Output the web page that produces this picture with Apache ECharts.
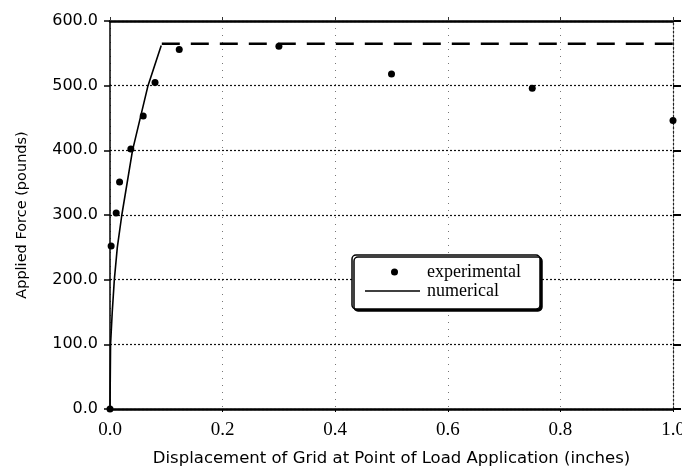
<!DOCTYPE html>
<html>
<head>
<meta charset="utf-8">
<script src="https://cdn.jsdelivr.net/npm/echarts@6/dist/echarts.min.js"></script>
<style>
  html, body { margin: 0; padding: 0; background: #fff; }
  #chart { width: 682px; height: 469px; }
</style>
</head>
<body>
<div id="chart"></div>
<script>
// experimental points
var expX = [0, 0.002, 0.011, 0.017, 0.037, 0.059, 0.080, 0.123, 0.30, 0.50, 0.75, 1.0]
var expY = [0, 252, 303, 351, 402, 453, 505, 556, 561, 518, 496, 446]
// numerical curve (solid part, elastic loading)
var numX = [0, 0.001, 0.004, 0.0077, 0.013, 0.021, 0.040, 0.0675, 0.091]
var numY = [0, 100, 150, 200, 250, 300, 400, 500, 562]
// numerical plateau (dashed)
var plateauX = [0.092, 1.0]
var plateauY = [565, 565]
// axis ticks
var xTicks = [0, 0.2, 0.4, 0.6, 0.8, 1.0]
var yTicks = [0, 100, 200, 300, 400, 500, 600]

function pairs (xs, ys) {
  return xs.map(function (x, i) { return [x, ys[i]] })
}

var chart = echarts.init(document.getElementById('chart'), null, { renderer: 'canvas' })

var sansFont = 'DejaVu Sans'
var serifFont = 'Liberation Serif'

var option = {
  backgroundColor: '#fff',
  animation: false,
  grid: {
    left: 110,
    right: 9,
    top: 21,
    bottom: 60,
    containLabel: false,
    outerBoundsMode: 'none'
  },
  legend: [
    {
      // experimental
      data: ['experimental'],
      left: 391,
      top: 263,
      padding: 0,
      icon: 'circle',
      itemWidth: 7,
      itemHeight: 7,
      selectedMode: false,
      textStyle: {
        fontFamily: serifFont,
        fontSize: 18,
        color: '#000',
        padding: [0, 0, 0, 24]
      }
    },
    {
      // numerical
      data: ['numerical'],
      left: 365,
      top: 282,
      padding: 0,
      icon: 'rect',
      itemWidth: 55,
      itemHeight: 1.6,
      selectedMode: false,
      textStyle: {
        fontFamily: serifFont,
        fontSize: 18,
        color: '#000',
        padding: [0, 0, 0, 2]
      }
    }
  ],
  graphic: [
    {
      type: 'rect',
      z: 3,
      shape: { x: 352, y: 255, width: 188, height: 54, r: 4 },
      style: {
        fill: '#fff',
        stroke: '#000',
        lineWidth: 1.5,
        shadowColor: '#000',
        shadowOffsetX: 2,
        shadowOffsetY: 2,
        shadowBlur: 0
      }
    }
  ],
  xAxis: [
    {
      type: 'value',
      position: 'bottom',
      min: 0,
      max: 1,
      interval: 0.2,
      name: 'Displacement of Grid at Point of Load Application (inches)',
      nameLocation: 'middle',
      nameGap: 41,
      nameTextStyle: {
        fontFamily: sansFont,
        fontSize: 16.5,
        color: '#000'
      },
      axisLine: { show: true, onZero: false, lineStyle: { color: '#000', width: 2.5 } },
      axisTick: { show: true, inside: false, length: 3, lineStyle: { color: '#000', width: 1 } },
      axisLabel: {
        margin: 12,
        fontFamily: serifFont,
        fontSize: 19,
        color: '#000',
        formatter: function (v) { return v.toFixed(1) }
      },
      splitLine: {
        show: true,
        lineStyle: { color: '#777', width: 1, type: [1, 6] }
      }
    },
    {
      type: 'value',
      position: 'top',
      min: 0,
      max: 1,
      interval: 0.2,
      axisLine: { show: true, onZero: false, lineStyle: { color: '#000', width: 2.5 } },
      axisTick: { show: true, inside: false, length: 4, lineStyle: { color: '#333', width: 1 } },
      axisLabel: { show: false },
      splitLine: { show: false }
    }
  ],
  yAxis: [
    {
      type: 'value',
      position: 'left',
      min: 0,
      max: 600,
      interval: 100,
      name: 'Applied Force (pounds)',
      nameLocation: 'middle',
      nameGap: 80,
      nameTextStyle: {
        fontFamily: sansFont,
        fontSize: 14.5,
        color: '#000'
      },
      axisLine: { show: true, onZero: false, lineStyle: { color: '#000', width: 1.5 } },
      axisTick: { show: true, inside: false, length: 6, lineStyle: { color: '#000', width: 1.5 } },
      axisLabel: {
        margin: 12,
        fontFamily: sansFont,
        fontSize: 16,
        color: '#000',
        formatter: function (v) { return v.toFixed(1) }
      },
      splitLine: {
        show: true,
        lineStyle: { color: '#111', width: 1.2, type: [2, 2] }
      }
    },
    {
      type: 'value',
      position: 'right',
      min: 0,
      max: 600,
      interval: 100,
      axisLine: { show: true, onZero: false, lineStyle: { color: '#222', width: 1.2, type: [2, 2] } },
      axisTick: { show: true, inside: false, length: 8, lineStyle: { color: '#000', width: 2 } },
      axisLabel: { show: false },
      splitLine: { show: false }
    }
  ],
  series: [
    {
      name: 'numerical',
      type: 'line',
      xAxisIndex: 0,
      yAxisIndex: 0,
      data: pairs(numX, numY),
      symbol: 'none',
      smooth: false,
      lineStyle: { color: '#000', width: 1.6 },
      itemStyle: { color: '#000' },
      z: 5
    },
    {
      name: 'numerical plateau',
      type: 'line',
      xAxisIndex: 0,
      yAxisIndex: 0,
      data: pairs(plateauX, plateauY),
      symbol: 'none',
      lineStyle: { color: '#000', width: 2.5, type: [18, 11] },
      z: 5
    },
    {
      name: 'experimental',
      type: 'scatter',
      xAxisIndex: 0,
      yAxisIndex: 0,
      data: pairs(expX, expY),
      symbol: 'circle',
      symbolSize: 7,
      itemStyle: { color: '#000', opacity: 1 },
      z: 6
    }
  ]
}

chart.setOption(option)
</script>
</body>
</html>
